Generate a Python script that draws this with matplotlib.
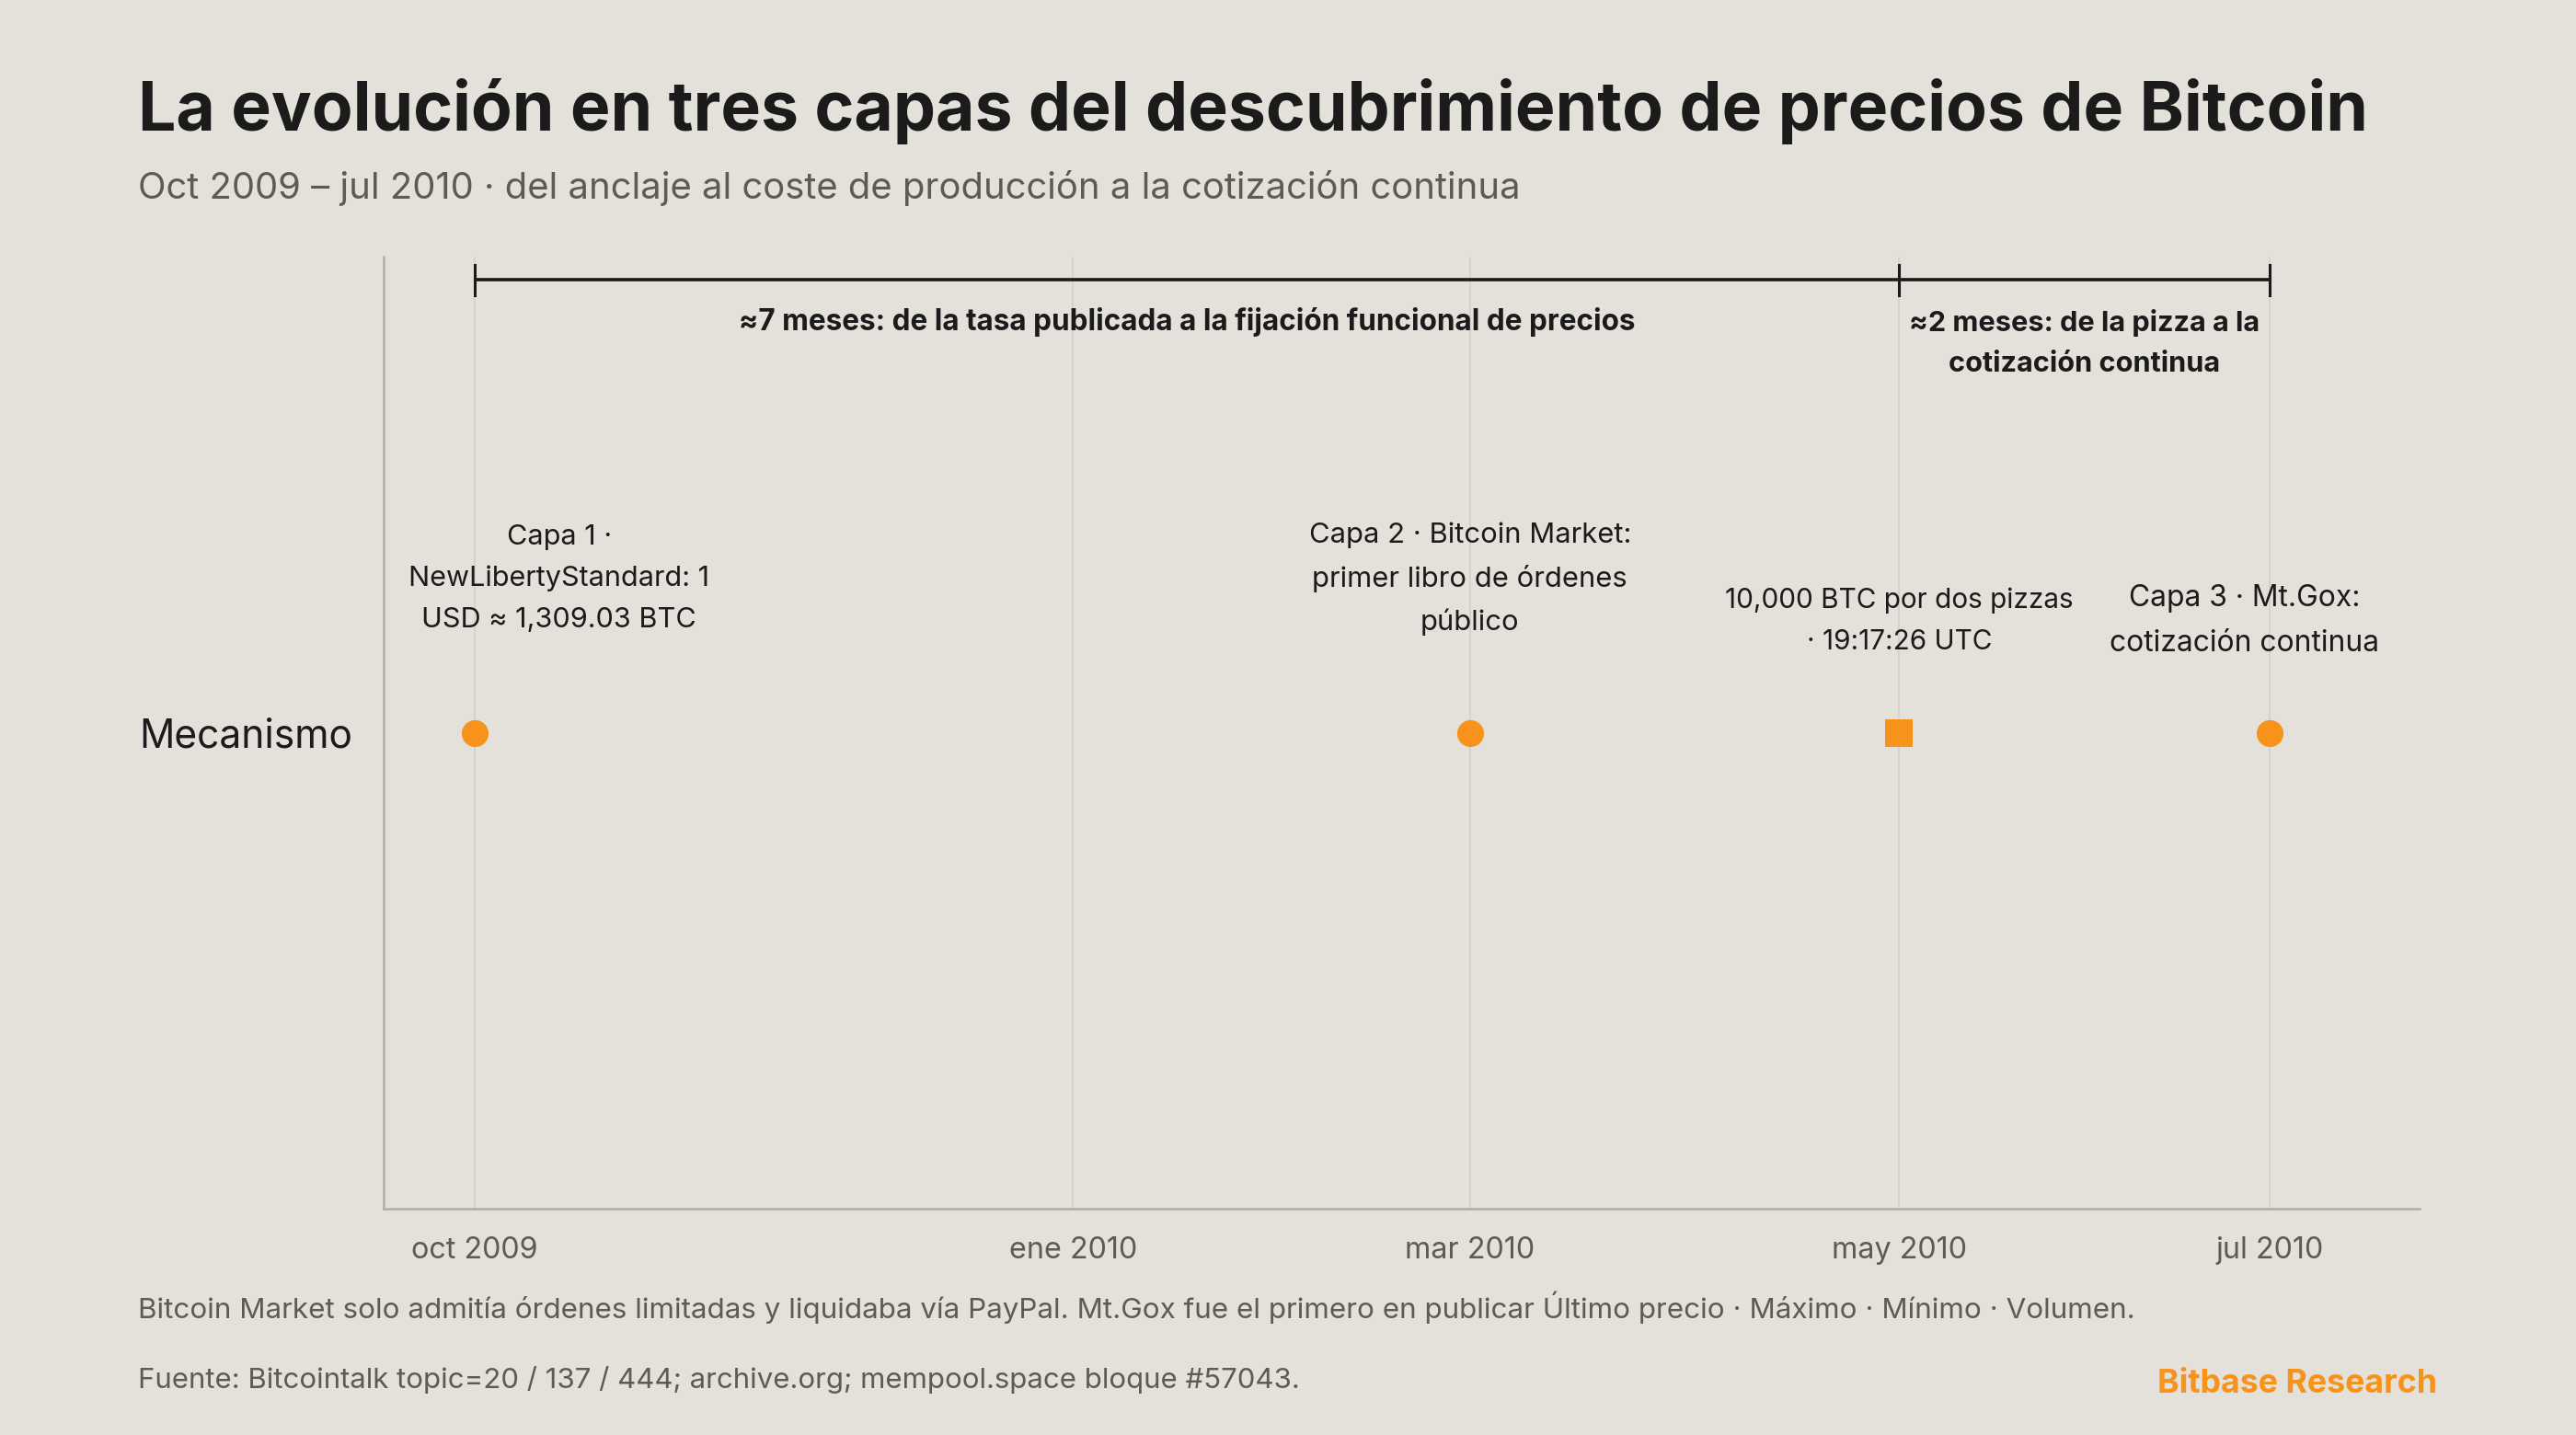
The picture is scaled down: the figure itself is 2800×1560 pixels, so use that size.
import matplotlib
matplotlib.use('Agg')
import matplotlib.pyplot as plt
import matplotlib.dates as mdates
import numpy as np

# ---------------- data ----------------
event_dates = ['2009-10-15', '2010-03-17', '2010-05-22', '2010-07-18']
event_labels = [
    'Capa 1 ·\nNewLibertyStandard: 1\nUSD ≈ 1,309.03 BTC',
    'Capa 2 · Bitcoin Market:\nprimer libro de órdenes\npúblico',
    '10,000 BTC por dos pizzas\n· 19:17:26 UTC',
    'Capa 3 · Mt.Gox:\ncotización continua',
]
event_markers = ['o', 'o', 's', 'o']
row_label = 'Mecanismo'

tick_dates = ['2009-10-15', '2010-01-15', '2010-03-17', '2010-05-22', '2010-07-18']
tick_labels = ['oct 2009', 'ene 2010', 'mar 2010', 'may 2010', 'jul 2010']

span_starts = ['2009-10-15', '2010-05-22']
span_ends = ['2010-05-22', '2010-07-18']
span_labels = ['≈7 meses: de la tasa publicada a la fijación funcional de precios',
               '≈2 meses: de la pizza a la\ncotización continua']

title = 'La evolución en tres capas del descubrimiento de precios de Bitcoin'
subtitle = 'Oct 2009 – jul 2010 · del anclaje al coste de producción a la cotización continua'
note = ('Bitcoin Market solo admitía órdenes limitadas y liquidaba vía PayPal. '
        'Mt.Gox fue el primero en publicar Último precio · Máximo · Mínimo · Volumen.')
source = 'Fuente: Bitcointalk topic=20 / 137 / 444; archive.org; mempool.space bloque #57043.'
brand = 'Bitbase Research'

# ---------------- style ----------------
BG = '#E4E0DA'
ORANGE = '#F7931A'
DARK = '#1B1B1B'
GRAY = '#5E5B57'
SPINE = '#B3ADA3'
GRID = '#D4CFC7'
FONT = ['Inter', 'DejaVu Sans']
plt.rcParams['font.family'] = FONT

W, H = 2800, 1560
fig = plt.figure(figsize=(14, 7.8), dpi=200, facecolor=BG)
ax = fig.add_axes([417 / W, 1 - 1314 / H, (2630 - 417) / W, (1314 - 279) / H])
ax.set_facecolor(BG)

ev = mdates.datestr2num(event_dates)
tk = mdates.datestr2num(tick_dates)
ss = mdates.datestr2num(span_starts)
se = mdates.datestr2num(span_ends)

ax.set_xlim(mdates.datestr2num('2009-10-01'), mdates.datestr2num('2010-08-10'))
ax.set_ylim(-1, 1)

# grid lines at ticks
ax.set_xticks(tk)
ax.set_xticklabels(tick_labels)
ax.xaxis.grid(True, color=GRID, linewidth=0.6)
ax.set_axisbelow(True)
ax.set_yticks([0])
ax.set_yticklabels([row_label])
ax.tick_params(axis='x', length=0, pad=10.7, labelcolor=GRAY, labelsize=11)
ax.tick_params(axis='y', length=0, pad=12, labelcolor=DARK, labelsize=13)

for s in ['top', 'right']:
    ax.spines[s].set_visible(False)
for s in ['left', 'bottom']:
    ax.spines[s].set_color(SPINE)
    ax.spines[s].set_linewidth(0.9)

# markers
for x, m in zip(ev, event_markers):
    ax.plot([x], [0], marker=m, markersize=10.5, color=ORANGE, linestyle='none',
            markeredgewidth=0, zorder=5)

# event labels
label_y = [0.324, 0.324, 0.234, 0.234]
label_dx = [33, 0, 0, -10]
ev_texts = []
for x, y, dx, t in zip(ev, label_y, label_dx, event_labels):
    tt = ax.annotate(t, xy=(x, y), xytext=(dx, 0), textcoords='offset points',
                     ha='center', va='center', fontsize=10.5, color=DARK,
                     linespacing=1.75)
    ev_texts.append(tt)

# span brackets
br_y = 0.951
cap = 0.032
for a, b in zip(ss, se):
    ax.plot([a, b], [br_y, br_y], color=DARK, linewidth=1.3, solid_capstyle='butt')
    ax.plot([a, a], [br_y - cap, br_y + cap], color=DARK, linewidth=1.1)
    ax.plot([b, b], [br_y - cap, br_y + cap], color=DARK, linewidth=1.1)
span_y = [0.863, 0.818]
sp_texts = []
for a, b, y, t in zip(ss, se, span_y, span_labels):
    tt = ax.text((a + b) / 2, y, t, ha='center', va='center', fontsize=10,
                 fontweight='bold', color=DARK, linespacing=1.75)
    sp_texts.append(tt)

# titles and footer
t_title = fig.text(150 / W, 1 - 121 / H, title, ha='left', va='center',
                   fontsize=24, fontweight='bold', color=DARK)
t_sub = fig.text(150 / W, 1 - 205 / H, subtitle, ha='left', va='center',
                 fontsize=13, color=GRAY)
t_note = fig.text(150 / W, 1 - 1421 / H, note, ha='left', va='center',
                  fontsize=10, color=GRAY)
t_src = fig.text(150 / W, 1 - 1500 / H, source, ha='left', va='center',
                 fontsize=10, color=GRAY)
t_brand = fig.text(2649 / W, 1 - 1504 / H, brand, ha='right', va='center',
                   fontsize=11, fontweight='bold', color=ORANGE)

# ---- fit text sizes to the reference widths (pixels) ----
fig.canvas.draw()
r = fig.canvas.get_renderer()


def fit(t, target):
    w = t.get_window_extent(r).width
    t.set_fontsize(t.get_fontsize() * target / w)


fit(t_title, 2422)
fit(t_sub, 1502)
fit(t_note, 2171)
fit(t_src, 1263)
fit(t_brand, 304)
fit(sp_texts[0], 975)
fit(sp_texts[1], 382)
for t, target in zip(ev_texts, [327, 350, 379, 293]):
    fit(t, target)

yl = ax.get_yticklabels()[0]
ax.tick_params(axis='y', labelsize=13 * 232 / yl.get_window_extent(r).width)
xl = ax.get_xticklabels()[0]
ax.tick_params(axis='x', labelsize=11 * 138 / xl.get_window_extent(r).width)

fig.savefig('out.png', dpi=200, facecolor=BG)
